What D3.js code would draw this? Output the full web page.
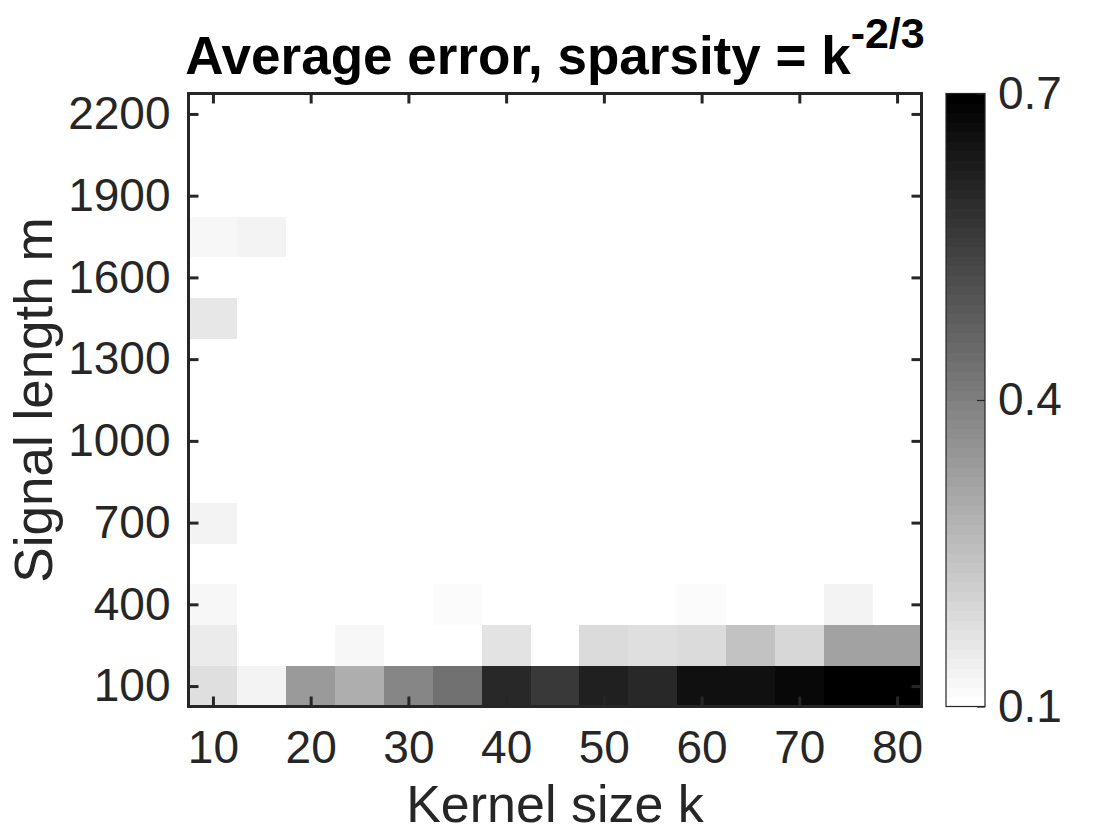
<!DOCTYPE html>
<html>
<head>
<meta charset="utf-8">
<script src="https://cdn.jsdelivr.net/npm/d3@7"></script>
<style>
  html, body { margin: 0; padding: 0; background: #fff; }
  svg { display: block; font-family: "Liberation Sans", Arial, Helvetica, sans-serif; }
</style>
</head>
<body>
<svg id="chart" width="1120" height="840"></svg>
<script>
// ---- Data ----
const kernelSizes = [10, 15, 20, 25, 30, 35, 40, 45, 50, 55, 60, 65, 70, 75, 80];
const signalLengths = [100, 250, 400, 550, 700, 850, 1000, 1150, 1300, 1450, 1600, 1750, 1900, 2050, 2200];
const xTickValues = [10, 20, 30, 40, 50, 60, 70, 80];
const yTickValues = [100, 400, 700, 1000, 1300, 1600, 1900, 2200];
const colorTickValues = [0.1, 0.4, 0.7];
const colorRange = [0.1, 0.7];

// average error, one array per signal length (m), columns follow kernelSizes
const err_m100  = [0.182, 0.131, 0.340, 0.293, 0.387, 0.432, 0.604, 0.566, 0.620, 0.605, 0.660, 0.660, 0.676, 0.700, 0.700];
const err_m250  = [0.147, 0.100, 0.100, 0.126, 0.100, 0.100, 0.173, 0.100, 0.187, 0.182, 0.189, 0.246, 0.199, 0.316, 0.324];
const err_m400  = [0.124, 0.100, 0.100, 0.100, 0.100, 0.112, 0.100, 0.100, 0.100, 0.100, 0.112, 0.100, 0.100, 0.133, 0.100];
const err_m550  = [0.100, 0.100, 0.100, 0.100, 0.100, 0.100, 0.100, 0.100, 0.100, 0.100, 0.100, 0.100, 0.100, 0.100, 0.100];
const err_m700  = [0.135, 0.100, 0.100, 0.100, 0.100, 0.100, 0.100, 0.100, 0.100, 0.100, 0.100, 0.100, 0.100, 0.100, 0.100];
const err_m850  = [0.100, 0.100, 0.100, 0.100, 0.100, 0.100, 0.100, 0.100, 0.100, 0.100, 0.100, 0.100, 0.100, 0.100, 0.100];
const err_m1000 = [0.100, 0.100, 0.100, 0.100, 0.100, 0.100, 0.100, 0.100, 0.100, 0.100, 0.100, 0.100, 0.100, 0.100, 0.100];
const err_m1150 = [0.100, 0.100, 0.100, 0.100, 0.100, 0.100, 0.100, 0.100, 0.100, 0.100, 0.100, 0.100, 0.100, 0.100, 0.100];
const err_m1300 = [0.100, 0.100, 0.100, 0.100, 0.100, 0.100, 0.100, 0.100, 0.100, 0.100, 0.100, 0.100, 0.100, 0.100, 0.100];
const err_m1450 = [0.164, 0.100, 0.100, 0.100, 0.100, 0.100, 0.100, 0.100, 0.100, 0.100, 0.100, 0.100, 0.100, 0.100, 0.100];
const err_m1600 = [0.100, 0.100, 0.100, 0.100, 0.100, 0.100, 0.100, 0.100, 0.100, 0.100, 0.100, 0.100, 0.100, 0.100, 0.100];
const err_m1750 = [0.126, 0.135, 0.100, 0.100, 0.100, 0.100, 0.100, 0.100, 0.100, 0.100, 0.100, 0.100, 0.100, 0.100, 0.100];
const err_m1900 = [0.100, 0.100, 0.100, 0.100, 0.100, 0.100, 0.100, 0.100, 0.100, 0.100, 0.100, 0.100, 0.100, 0.100, 0.100];
const err_m2050 = [0.100, 0.100, 0.100, 0.100, 0.100, 0.100, 0.100, 0.100, 0.100, 0.100, 0.100, 0.100, 0.100, 0.100, 0.100];
const err_m2200 = [0.100, 0.100, 0.100, 0.100, 0.100, 0.100, 0.100, 0.100, 0.100, 0.100, 0.100, 0.100, 0.100, 0.100, 0.100];
const errorRows = [err_m100, err_m250, err_m400, err_m550, err_m700, err_m850, err_m1000, err_m1150,
                   err_m1300, err_m1450, err_m1600, err_m1750, err_m1900, err_m2050, err_m2200];

// ---- Layout ----
const plot = { left: 188.5, right: 921.5, top: 93.5, bottom: 706.5 };
const cbar = { left: 946, right: 985 };
const axisColor = "#262626";

const svg = d3.select("#chart");

const kStep = kernelSizes[1] - kernelSizes[0];
const mStep = signalLengths[1] - signalLengths[0];
const x = d3.scaleLinear()
  .domain([kernelSizes[0] - kStep / 2, kernelSizes[kernelSizes.length - 1] + kStep / 2])
  .range([plot.left, plot.right]);
const y = d3.scaleLinear()
  .domain([signalLengths[0] - mStep / 2, signalLengths[signalLengths.length - 1] + mStep / 2])
  .range([plot.bottom, plot.top]);

// MATLAB-style 64-level reversed gray colormap
const nLevels = 64;
function levelGray(i) { return Math.round(255 * (1 - i / (nLevels - 1))); }
function colorFor(v) {
  let idx = Math.floor((v - colorRange[0]) / (colorRange[1] - colorRange[0]) * nLevels);
  idx = Math.max(0, Math.min(nLevels - 1, idx));
  const g = levelGray(idx);
  return d3.rgb(g, g, g).toString();
}

// ---- Cells ----
const cells = [];
signalLengths.forEach((m, r) => {
  kernelSizes.forEach((k, c) => {
    cells.push({ k, m, v: errorRows[r][c] });
  });
});

svg.append("g").selectAll("rect")
  .data(cells)
  .join("rect")
  .attr("x", d => x(d.k - kStep / 2))
  .attr("y", d => y(d.m + mStep / 2))
  .attr("width", d => x(d.k + kStep / 2) - x(d.k - kStep / 2) + 0.5)
  .attr("height", d => y(d.m - mStep / 2) - y(d.m + mStep / 2) + 0.5)
  .attr("fill", d => colorFor(d.v))
  .attr("shape-rendering", "crispEdges");

// ---- Axes ----
const tickFont = 46;
function styleAxis(g) {
  g.select(".domain").remove();
  g.selectAll(".tick line").attr("stroke", axisColor).attr("stroke-width", 3);
  g.selectAll(".tick text").attr("fill", axisColor).attr("font-size", tickFont)
    .attr("font-family", '"Liberation Sans", Arial, Helvetica, sans-serif');
}

svg.append("g")
  .attr("transform", `translate(0,${plot.bottom})`)
  .call(d3.axisBottom(x).tickValues(xTickValues).tickSize(-10).tickPadding(24).tickFormat(d3.format("d")))
  .call(styleAxis);
svg.append("g")
  .attr("transform", `translate(0,${plot.top})`)
  .call(d3.axisTop(x).tickValues(xTickValues).tickSize(-10).tickFormat(""))
  .call(styleAxis);
svg.append("g")
  .attr("transform", `translate(${plot.left},0)`)
  .call(d3.axisLeft(y).tickValues(yTickValues).tickSize(-10).tickPadding(18).tickFormat(d3.format("d")))
  .call(styleAxis);
svg.append("g")
  .attr("transform", `translate(${plot.right},0)`)
  .call(d3.axisRight(y).tickValues(yTickValues).tickSize(-10).tickFormat(""))
  .call(styleAxis);

// frame
svg.append("rect")
  .attr("x", plot.left).attr("y", plot.top)
  .attr("width", plot.right - plot.left).attr("height", plot.bottom - plot.top)
  .attr("fill", "none").attr("stroke", axisColor).attr("stroke-width", 3);

// ---- Labels ----
svg.append("text")
  .attr("x", (plot.left + plot.right) / 2).attr("y", 822)
  .attr("text-anchor", "middle").attr("font-size", 52).attr("fill", axisColor)
  .text("Kernel size k");

svg.append("text")
  .attr("transform", `translate(52,${(plot.top + plot.bottom) / 2}) rotate(-90)`)
  .attr("text-anchor", "middle").attr("font-size", 53).attr("fill", axisColor)
  .text("Signal length m");

const title = svg.append("text")
  .attr("x", (plot.left + plot.right) / 2).attr("y", 74)
  .attr("text-anchor", "middle").attr("font-size", 53).attr("font-weight", "bold").attr("fill", "#000");
title.append("tspan").text("Average error, sparsity = k");
title.append("tspan").attr("font-size", 43).attr("dy", -26).text("-2/3");

// ---- Colorbar ----
const cy = d3.scaleLinear().domain(colorRange).range([plot.bottom, plot.top]);
const levels = d3.range(nLevels);
const dv = (colorRange[1] - colorRange[0]) / nLevels;
svg.append("g").selectAll("rect")
  .data(levels)
  .join("rect")
  .attr("x", cbar.left)
  .attr("width", cbar.right - cbar.left)
  .attr("y", i => cy(colorRange[0] + (i + 1) * dv))
  .attr("height", i => cy(colorRange[0] + i * dv) - cy(colorRange[0] + (i + 1) * dv) + 0.5)
  .attr("fill", i => { const g = levelGray(i); return d3.rgb(g, g, g).toString(); })
  .attr("shape-rendering", "crispEdges");

svg.append("g")
  .attr("transform", `translate(${cbar.right},0)`)
  .call(d3.axisRight(cy).tickValues(colorTickValues).tickSize(-8).tickPadding(13).tickFormat(d3.format(".1f")))
  .call(g => {
    g.select(".domain").remove();
    g.selectAll(".tick line").attr("stroke", axisColor).attr("stroke-width", 1.2);
    g.selectAll(".tick text").attr("fill", axisColor).attr("font-size", tickFont)
      .attr("font-family", '"Liberation Sans", Arial, Helvetica, sans-serif');
  });

svg.append("rect")
  .attr("x", cbar.left).attr("y", plot.top)
  .attr("width", cbar.right - cbar.left).attr("height", plot.bottom - plot.top)
  .attr("fill", "none").attr("stroke", axisColor).attr("stroke-width", 1.2);
</script>
</body>
</html>
